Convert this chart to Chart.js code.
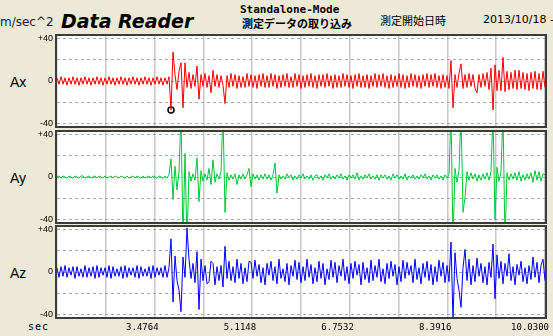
<!DOCTYPE html>
<html><head><meta charset="utf-8">
<script src="https://cdn.jsdelivr.net/npm/chart.js@4.4.1/dist/chart.umd.min.js"></script>
<style>
html,body{margin:0;padding:0;}
body{width:553px;height:336px;overflow:hidden;background:#ECE9D8;position:relative;font-family:"DejaVu Sans",sans-serif;}
canvas{position:absolute;left:0;}
.t{position:absolute;white-space:nowrap;line-height:1;color:#000;}
</style></head><body>
<div class="t" style="left:0;top:16px;font-size:12px;color:#222;">m/sec^2</div>
<div class="t" style="left:61px;top:10px;font:italic bold 19px 'DejaVu Sans';">Data Reader</div>
<div class="t" style="left:240px;top:3px;font:bold 11px 'DejaVu Sans Mono';">Standalone-Mode</div>
<div class="t" style="left:242px;top:15px;font:bold 11px 'Noto Sans CJK JP';">測定データの取り込み</div>
<div class="t" style="left:380px;top:12px;font:11px 'Noto Sans CJK JP';">測定開始日時</div>
<div class="t" style="left:483px;top:13px;font:11px 'DejaVu Sans';">2013/10/18 -</div>
<div class="t" style="left:10px;top:74px;font:14px 'Liberation Sans';">Ax</div>
<div class="t" style="left:10px;top:170px;font:14px 'Liberation Sans';">Ay</div>
<div class="t" style="left:10px;top:265px;font:14px 'Liberation Sans';">Az</div>
<div class="t" style="left:28px;top:321px;font:10px 'DejaVu Sans Mono';letter-spacing:1px;">sec</div>
<canvas id="c1" width="553" height="112" style="top:24px"></canvas>
<canvas id="c2" width="553" height="112" style="top:120px"></canvas>
<canvas id="c3" width="553" height="121" style="top:215px"></canvas>
<script>
const T_START = 1.8380, T_END = 10.0300;
const X_TICKS = [1.8380,2.6572,3.4764,4.2956,5.1148,5.9340,6.7532,7.5724,8.3916,9.2108,10.0300];
const X_LABELS = ['','','3.4764','','5.1148','','6.7532','','8.3916','','10.0300'];
const Y_TICKS = [-40,-20,0,20,40];
const Y_LABELS = ['-40','','0','','+40'];
const MARK_INDEX = 57;

const AX = [
3,-3,4,-3,3,-4,3,-3,4,-3,
3,-4,3,-3,4,-3,3,-4,3,-3,
4,-3,3,-4,3,-3,4,-3,3,-4,
3,-3,4,-3,3,-4,3,-3,4,-3,
3,-4,3,-3,4,-3,3,-4,3,-3,
4,-3,3,-4,3,-3,4,
-27,27,
6,-8,9,17,-25,17,-6,8,-7,6,-5,14,-17,6,-5,7,-6,5,-11,10,-5,6,-6,5,-4,-21,
5,-6,7,-5,6,-7,5,-6,4,-6,7,-5,6,-6,5,
-7,6,-5,7,-6,5,-6,7,-5,6,-7,5,-6,6,-5,7,-6,4,-6,7,
-5,6,-7,5,-6,6,-5,7,-6,5,-7,6,-5,6,-6,7,-5,5,-7,6,
-6,5,-6,7,-5,6,-6,5,-7,6,-5,7,-6,5,-6,6,-7,5,-5,7,
-6,6,-5,7,-6,5,-7,6,-6,5,-5,7,-6,6,-7,5,-6,7,-5,6,
-6,5,-7,6,-5,7,-6,6,-5,7,-6,5,-7,6,-6,5,-7,
19,-25,6,-6,7,16,-7,6,-6,7,-5,6,-7,-11,6,-6,7,-5,8,
-8,12,-27,15,-9,10,-9,22,-10,9,-8,8,-7,10,-8,10,-7,8,-8,7,-9,8,-7,9,-8,7,-8,9,-6
];

const AY = [
0,1,-1,1,0,-1,1,0,-1,1,
0,-1,1,1,-1,0,1,-1,0,1,
-1,1,0,-1,1,-1,0,1,-1,1,
0,-1,1,0,-1,1,-1,0,1,-1,
1,0,-1,1,-1,0,1,-1,1,0,
-1,1,0,-1,1,-1,2,
17,-21,10,-12,5,60,-60,22,-60,5,
-4,3,-3,18,-23,6,-4,3,-3,8,
-7,16,-5,3,-2,5,60,-33,4,-3,
2,-2,3,-7,2,-2,3,-2,2,8,
-9,3,-2,2,-3,2,-2,3,-2,2,
-3,2,13,-15,
2,-2,1,-2,3,-1,2,-3,1,-2,
2,-1,3,-2,1,-2,2,-3,1,2,
-2,1,-3,2,-1,3,-2,1,-2,2,
-1,3,-2,1,-3,2,-1,2,-2,4,
-3,1,-2,2,-1,3,-2,1,-2,2,
-3,2,-1,2,-2,1,-3,3,-1,2,
-2,1,-2,3,-3,1,-1,2,-2,1,
-2,2,-1,3,-2,1,-3,2,-1,2,
-2,1,-3,2,-1,2,
60,-60,8,-5,6,60,-33,-19,5,-3,
4,-2,3,-4,2,-3,3,-2,4,-3,
5,60,-40,9,-4,5,60,-60,4,-3,
3,-2,4,-3,5,-4,2,-3,3,-2,
4,-5,6,-3,5,-4,3,2
];

const AZ = [
4,-5,5,-4,6,-5,4,-3,5,-6,
5,-4,3,-5,6,-5,4,-4,5,-6,
6,-5,4,-3,4,-5,6,-6,5,-4,
3,-4,5,-6,6,-5,4,-3,4,-5,
6,-6,5,-4,3,-4,5,-6,6,-5,
4,-3,4,-5,6,-5,4,
31,-28,15,-8,-17,-37,14,-5,41,12,
-6,8,-10,19,-35,12,-8,6,-11,-9,
10,8,-12,5,-8,6,-14,24,-6,10,
-8,5,-10,12,-6,8,-11,4,-9,10,
9,-6,11,-4,7,-10,4,-12,8,-3,
10,-8,5,-11,12,-6,3,-9,8,-12,
6,-4,11,-7,9,-10,5,-8,12,-5,
7,-11,4,-9,10,-6,8,-12,3,-7,
11,-5,9,-10,6,-4,12,-8,5,-11,
8,-6,10,-3,7,-12,9,-7,4,-10,
11,-8,6,-5,12,-9,3,-11,8,-6,
10,-4,7,-12,5,-9,11,-6,9,-3,
6,-10,12,-7,4,-11,8,-5,10,-8,
7,-12,5,-9,11,-4,9,-10,6,-9,
28,-45,18,-6,-17,-33,4,21,-8,12,-12,6,-9,13,-4,8,-10,5,-12,9,
-5,26,-25,16,-6,10,-11,8,-4,17,-8,5,-12,7,-3,10,-9,4,-11,6,-7,14,-5,9,-10,6,12,-8
];

function timeAt(i, n) { return T_START + i * (T_END - T_START) / (n - 1); }
function toPoints(vals) { return vals.map((v, i) => ({x: timeAt(i, vals.length), y: v})); }

const framePlugin = {
  id: 'frame',
  beforeDraw(chart) {
    const a = chart.chartArea, c = chart.ctx;
    c.save(); c.fillStyle = '#ffffff';
    c.fillRect(a.left, a.top, a.right - a.left, a.bottom - a.top);
    c.restore();
  },
  afterDraw(chart) {
    const a = chart.chartArea, c = chart.ctx;
    c.save(); c.strokeStyle = '#3c3c3c'; c.lineWidth = 2;
    c.strokeRect(a.left - 1, a.top - 1, a.right - a.left + 2, a.bottom - a.top + 2);
    c.restore();
  }
};

function panel(id, vals, color, bottom, extra) {
  return new Chart(document.getElementById(id), {
    type: 'line',
    data: {datasets: [{data: toPoints(vals), borderColor: color, borderWidth: 1, pointRadius: 0, tension: 0, fill: false}].concat(extra || [])},
    options: {
      responsive: false, animation: false, devicePixelRatio: 1,
      plugins: {legend: {display: false}, tooltip: {enabled: false}},
      layout: {padding: {top: 12, bottom: bottom ? 0 : 10, left: 0, right: 8}},
      scales: {
        x: {
          type: 'linear', min: T_START, max: T_END,
          afterBuildTicks: s => { s.ticks = X_TICKS.map(v => ({value: v})); },
          afterFit: s => { s.height = bottom ? 19 : 0; },
          grid: {color: '#c8c8c8', lineWidth: 1.5, drawTicks: false},
          border: {display: false},
          ticks: {display: bottom, autoSkip: false, maxRotation: 0, align: 'end', labelOffset: 4, padding: 5,
                  color: '#000', font: {family: 'DejaVu Sans Mono', size: 9},
                  callback: (v, i) => X_LABELS[i]}
        },
        y: {
          min: -42, max: 42,
          afterBuildTicks: s => { s.ticks = Y_TICKS.map(v => ({value: v})); },
          afterFit: s => { s.width = 57; },
          grid: {color: '#a8a8a8', lineWidth: 1, drawTicks: false},
          border: {display: false, dash: [3, 3]},
          ticks: {padding: 4, autoSkip: false, color: '#000', font: {family: 'Liberation Sans', size: 9},
                  callback: (v, i) => Y_LABELS[i]}
        }
      }
    },
    plugins: [framePlugin]
  });
}

panel('c1', AX, '#ff0000', false, [{
  data: [{x: timeAt(MARK_INDEX, AX.length), y: AX[MARK_INDEX]}],
  showLine: false, pointRadius: 3, pointStyle: 'circle',
  pointBorderColor: '#000', pointBackgroundColor: '#fff', pointBorderWidth: 1.5
}]);
panel('c2', AY, '#00c83c', false);
panel('c3', AZ, '#0000ff', true);
</script>
</body></html>
